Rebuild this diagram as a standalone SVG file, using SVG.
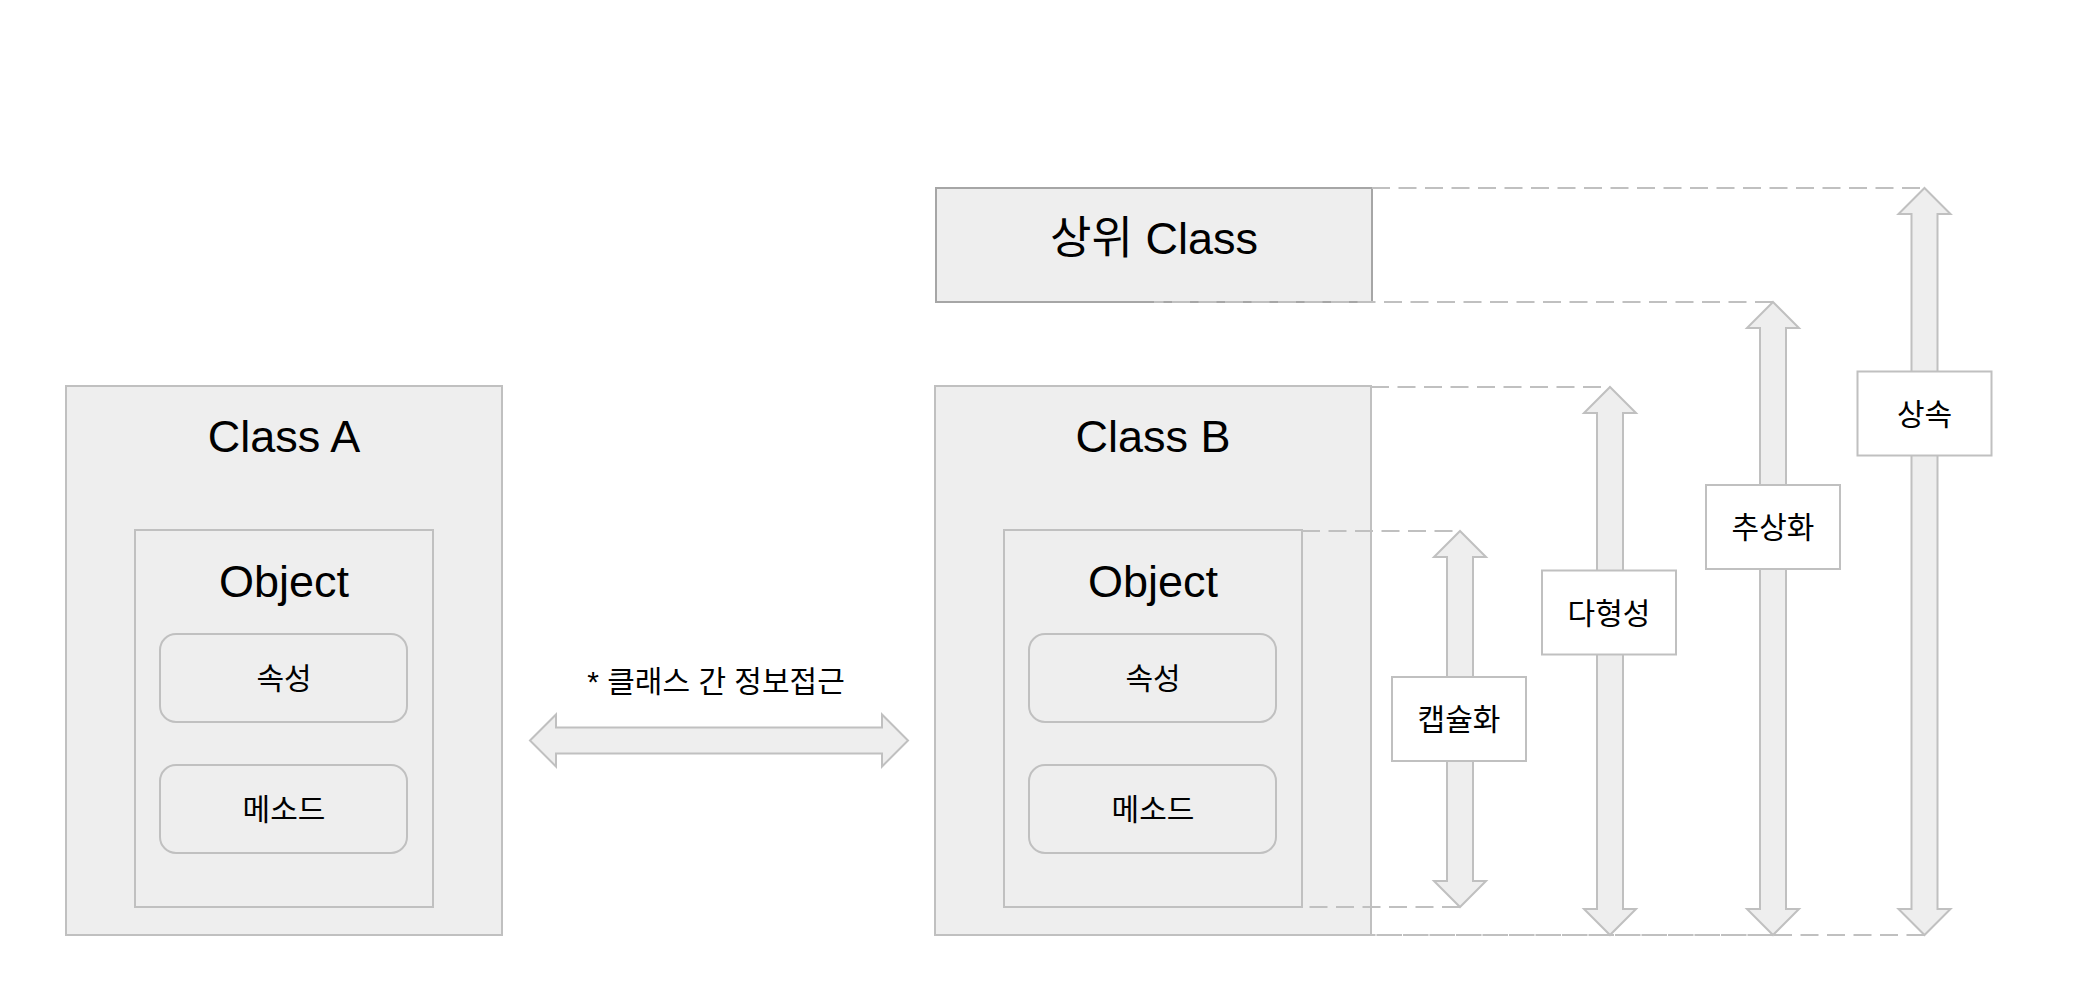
<svg xmlns="http://www.w3.org/2000/svg" width="2096" height="986" viewBox="0 0 2096 986">
<style>
.box{fill:#eeeeee;stroke:#c0c0c0;stroke-width:2}
.top{fill:#eeeeee;stroke:#a6a6a6;stroke-width:2}
.lbl{fill:#ffffff;stroke:#c0c0c0;stroke-width:2}
.arr{fill:#eeeeee;stroke:#c0c0c0;stroke-width:2;stroke-linejoin:miter}
.dash{fill:none;stroke:#c0c0c0;stroke-width:2;stroke-dasharray:18 8.5}
.big{font-family:"Liberation Sans","Noto Sans CJK KR",sans-serif;font-size:45px;fill:#000;text-anchor:middle}
.sm{font-family:"Liberation Sans","Noto Sans CJK KR",sans-serif;font-size:30px;fill:#000;text-anchor:middle}
</style>
<rect width="2096" height="986" fill="#ffffff"/>
<g id="classA">
<rect class="box" x="66" y="386" width="436" height="549"/>
<text class="big" x="284" y="452">Class A</text>
<g id="objectA">
<rect class="box" x="135" y="530" width="298" height="377"/>
<text class="big" x="284" y="597">Object</text>
<rect class="box" x="160" y="634" width="247" height="88" rx="16"/>
<text class="sm" x="284" y="689">속성</text>
<rect class="box" x="160" y="765" width="247" height="88" rx="16"/>
<text class="sm" x="284" y="820">메소드</text>
</g>
</g>
<g id="superClass">
<rect class="top" x="936" y="188" width="436" height="114"/>
<text class="big" x="1154" y="254">상위 Class</text>
</g>
<g id="classB">
<rect class="box" x="935" y="386" width="436" height="549"/>
<text class="big" x="1153" y="452">Class B</text>
<g id="objectB">
<rect class="box" x="1004" y="530" width="298" height="377"/>
<text class="big" x="1153" y="597">Object</text>
<rect class="box" x="1029" y="634" width="247" height="88" rx="16"/>
<text class="sm" x="1153" y="689">속성</text>
<rect class="box" x="1029" y="765" width="247" height="88" rx="16"/>
<text class="sm" x="1153" y="820">메소드</text>
</g>
</g>
<g id="connectors">
<path class="dash" d="M1372 188H1924.5"/>
<path class="dash" d="M1773 302H1154"/>
<path class="dash" d="M1371 387H1610"/>
<path class="dash" d="M1302 531H1460"/>
<path class="dash" d="M1460 907H1302"/>
<path class="dash" d="M1610 935H1153"/>
<path class="dash" d="M1773 935H1153"/>
<path class="dash" d="M1924.5 935H1153"/>
<polygon id="arrowAB" class="arr" points="530,740.5 556,714.5 556,727.5 882,727.5 882,714.5 908,740.5 882,766.5 882,753.5 556,753.5 556,766.5"/>
<polygon id="arrowEnc" class="arr" points="1460,531 1486,557 1473,557 1473,881 1486,881 1460,907 1434,881 1447,881 1447,557 1434,557"/>
<polygon id="arrowPoly" class="arr" points="1610,387 1636,413 1623,413 1623,909 1636,909 1610,935 1584,909 1597,909 1597,413 1584,413"/>
<polygon id="arrowAbs" class="arr" points="1773,302 1799,328 1786,328 1786,909 1799,909 1773,935 1747,909 1760,909 1760,328 1747,328"/>
<polygon id="arrowInh" class="arr" points="1924.5,188 1950.5,214 1937.5,214 1937.5,909 1950.5,909 1924.5,935 1898.5,909 1911.5,909 1911.5,214 1898.5,214"/>
</g>
<g id="accessLabel">
<text class="sm" x="716" y="692">* 클래스 간 정보접근</text>
</g>
<g id="encapsulation">
<rect class="lbl" x="1392" y="677" width="134" height="84"/>
<text class="sm" x="1459" y="730">캡슐화</text>
</g>
<g id="polymorphism">
<rect class="lbl" x="1542" y="570.5" width="134" height="84"/>
<text class="sm" x="1609" y="623.5">다형성</text>
</g>
<g id="abstraction">
<rect class="lbl" x="1706" y="485" width="134" height="84"/>
<text class="sm" x="1773" y="538">추상화</text>
</g>
<g id="inheritance">
<rect class="lbl" x="1857.5" y="371.5" width="134" height="84"/>
<text class="sm" x="1924.5" y="424.5">상속</text>
</g>
</svg>
